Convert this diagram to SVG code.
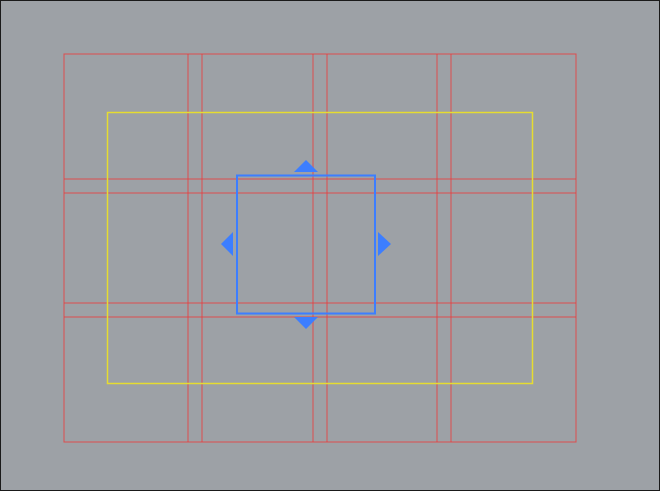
<svg xmlns="http://www.w3.org/2000/svg" width="660" height="491" viewBox="0 0 660 491">
<style>
.grid{stroke:#ee3a3a;stroke-opacity:0.8;stroke-width:1;fill:none}
.frame{stroke:#ee3a3a;stroke-opacity:0.8;stroke-width:1;fill:none}
.safe{stroke:#e6dc30;stroke-width:1.5;fill:none}
.sel{stroke:#3d7eff;stroke-width:2;fill:none}
.handle{fill:#3d7eff}
</style>
<rect x="0.5" y="0.5" width="659" height="490" fill="#9da1a6" stroke="#1a1a1a" stroke-width="1"/>
<g id="frame">
<rect class="frame" x="64" y="54" width="512" height="388"/>
</g>
<g id="grid" class="grid">
<line x1="188" y1="54" x2="188" y2="442"/>
<line x1="202" y1="54" x2="202" y2="442"/>
<line x1="313" y1="54" x2="313" y2="442"/>
<line x1="327" y1="54" x2="327" y2="442"/>
<line x1="437" y1="54" x2="437" y2="442"/>
<line x1="451" y1="54" x2="451" y2="442"/>
<line x1="64" y1="179" x2="576" y2="179"/>
<line x1="64" y1="193" x2="576" y2="193"/>
<line x1="64" y1="303" x2="576" y2="303"/>
<line x1="64" y1="317" x2="576" y2="317"/>
</g>
<g id="safe-area">
<rect class="safe" x="107.5" y="112.5" width="425" height="271"/>
</g>
<g id="selection">
<rect class="sel" x="237" y="175.5" width="138" height="138"/>
<polygon class="handle" points="294,172 306,160 318,172"/>
<polygon class="handle" points="294,317 306,329 318,317"/>
<polygon class="handle" points="233,232 221,244 233,256"/>
<polygon class="handle" points="378,232 391,244 378,256"/>
</g>
</svg>
